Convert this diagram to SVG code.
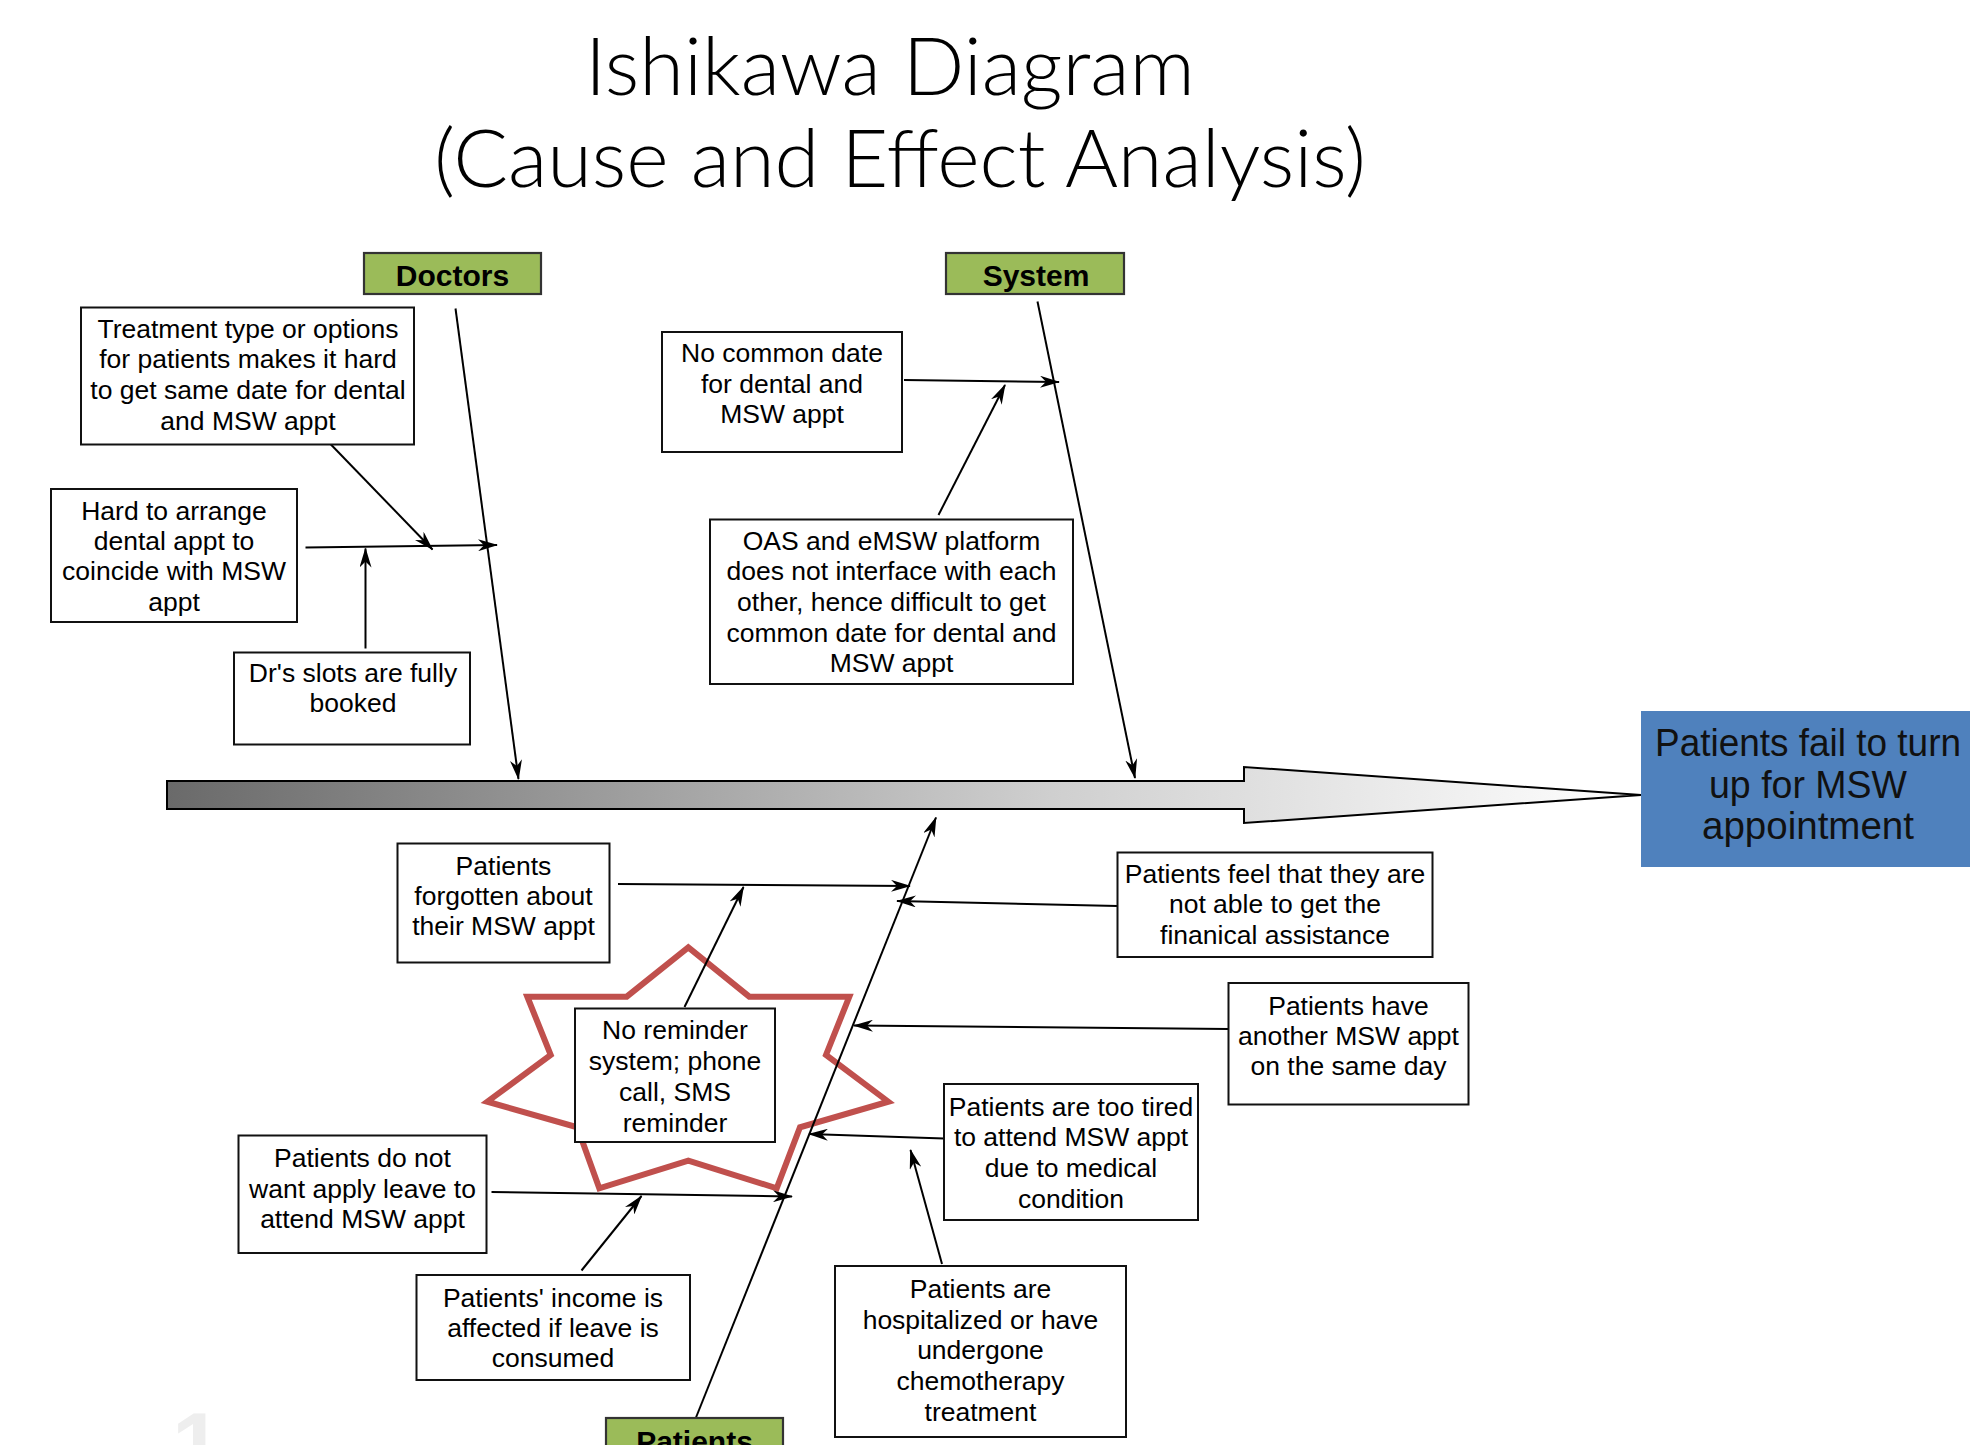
<svg xmlns="http://www.w3.org/2000/svg" width="1987" height="1445" viewBox="0 0 1987 1445">
<style>
.box{fill:#ffffff;stroke:#111111;stroke-width:2}
.cat{fill:#9BBB59;stroke:#333333;stroke-width:2.2}
.t{font-family:"Liberation Sans",Arial,sans-serif;font-size:26.5px;fill:#000;text-anchor:middle}
.ct{font-family:"Liberation Sans",Arial,sans-serif;font-size:30px;font-weight:bold;fill:#000;text-anchor:middle}
.et{font-family:"Liberation Sans",Arial,sans-serif;font-size:38px;fill:#111;text-anchor:middle}
.title{font-family:Lato,"Open Sans",sans-serif;font-size:80px;font-weight:300;fill:#000;text-anchor:middle}
.c{fill:none;stroke:#000;stroke-width:2;marker-end:url(#ah)}
</style>
<defs>
<marker id="ah" viewBox="0 0 20 12" refX="19" refY="6" markerWidth="20" markerHeight="12" markerUnits="userSpaceOnUse" orient="auto">
<path d="M0,0 L20,6 L0,12 L6,6 Z" fill="#000"/>
</marker>
<linearGradient id="spg" gradientUnits="userSpaceOnUse" x1="167" y1="0" x2="1641" y2="0">
<stop offset="0" stop-color="#6a6a6a"/>
<stop offset="0.6" stop-color="#cfcfcf"/>
<stop offset="1" stop-color="#ffffff"/>
</linearGradient>
</defs>
<rect x="0" y="0" width="1987" height="1445" fill="#ffffff"/>
<text x="172" y="1476" font-family="Liberation Sans, sans-serif" font-size="90" font-weight="bold" fill="#eeeeee">1</text>
<g id="title">
<text class="title" x="890" y="95" textLength="610" lengthAdjust="spacingAndGlyphs">Ishikawa Diagram</text>
<text class="title" x="900" y="187" textLength="932" lengthAdjust="spacingAndGlyphs">(Cause and Effect Analysis)</text>
</g>
<g id="spine">
<path d="M167,781 L1244,781 L1244,767 L1641,795 L1244,823 L1244,809 L167,809 Z" fill="url(#spg)" stroke="#000" stroke-width="2"/>
</g>
<g id="star">
<polygon points="688.3,947.3 749.3,996.7 849.3,996.7 826,1055 888.3,1101.7 800,1127.3 776.7,1188.3 688.3,1160.7 599.3,1188.3 577.3,1127.3 487.3,1101.7 550.7,1055 527.3,996.7 626.7,996.7" fill="none" stroke="#C0504D" stroke-width="6"/>
</g>
<g id="connectors">
<path class="c" d="M455.5,308.5 L518.5,779"/>
<path class="c" d="M328.5,442 L432.5,549.5"/>
<path class="c" d="M305.5,547.5 L497,545"/>
<path class="c" d="M365.5,648.5 L365.5,548.5"/>
<path class="c" d="M1037.5,301.5 L1135,778"/>
<path class="c" d="M904,380 L1059,382"/>
<path class="c" d="M938.5,515 L1005,385"/>
<path class="c" d="M695.8,1418 L936,817.5"/>
<path class="c" d="M618,884 L910,886"/>
<path class="c" d="M684.5,1007 L743.5,887"/>
<path class="c" d="M1117.5,906 L897,901"/>
<path class="c" d="M1228.5,1029 L854,1025.5"/>
<path class="c" d="M944,1138.5 L809,1134"/>
<path class="c" d="M942,1264 L910.5,1150"/>
<path class="c" d="M491.5,1192 L792,1196.5"/>
<path class="c" d="M581.5,1270.5 L641.5,1196"/>
</g>
<g id="doctors">
<rect class="cat" x="364" y="253" width="177" height="41"/>
<text class="ct" x="452.5" y="286">Doctors</text>
</g>
<g id="system">
<rect class="cat" x="946" y="253" width="178" height="41"/>
<text class="ct" x="1036" y="286">System</text>
</g>
<g id="patients">
<rect class="cat" x="606" y="1418" width="177" height="41"/>
<text class="ct" x="694.5" y="1452">Patients</text>
</g>
<g id="effect">
<rect x="1641" y="711" width="329" height="156" fill="#4F81BD"/>
<text class="et" x="1808" y="756" textLength="306" lengthAdjust="spacingAndGlyphs">Patients fail to turn</text>
<text class="et" x="1808" y="798" textLength="198" lengthAdjust="spacingAndGlyphs">up for MSW</text>
<text class="et" x="1808" y="839" textLength="212" lengthAdjust="spacingAndGlyphs">appointment</text>
</g>
<g id="treatment">
<rect class="box" x="81" y="307.5" width="333" height="137"/>
<text class="t" x="248" y="337.5">Treatment type or options</text>
<text class="t" x="248" y="368">for patients makes it hard</text>
<text class="t" x="248" y="398.5">to get same date for dental</text>
<text class="t" x="248" y="429.5">and MSW appt</text>
</g>
<g id="hard">
<rect class="box" x="51" y="489" width="246" height="133"/>
<text class="t" x="174" y="519.5">Hard to arrange</text>
<text class="t" x="174" y="549.5">dental appt to</text>
<text class="t" x="174" y="580">coincide with MSW</text>
<text class="t" x="174" y="610.5">appt</text>
</g>
<g id="slots">
<rect class="box" x="234" y="652.5" width="236" height="92"/>
<text class="t" x="353" y="682">Dr's slots are fully</text>
<text class="t" x="353" y="712">booked</text>
</g>
<g id="nocommon">
<rect class="box" x="662" y="332" width="240" height="120"/>
<text class="t" x="782" y="362">No common date</text>
<text class="t" x="782" y="392.5">for dental and</text>
<text class="t" x="782" y="423">MSW appt</text>
</g>
<g id="oas">
<rect class="box" x="710" y="519.5" width="363" height="164.5"/>
<text class="t" x="891.5" y="550">OAS and eMSW platform</text>
<text class="t" x="891.5" y="580">does not interface with each</text>
<text class="t" x="891.5" y="611">other, hence difficult to get</text>
<text class="t" x="891.5" y="642">common date for dental and</text>
<text class="t" x="891.5" y="672">MSW appt</text>
</g>
<g id="forgotten">
<rect class="box" x="397.5" y="843.5" width="212" height="119"/>
<text class="t" x="503.5" y="874.5">Patients</text>
<text class="t" x="503.5" y="904.5">forgotten about</text>
<text class="t" x="503.5" y="934.5">their MSW appt</text>
</g>
<g id="feel">
<rect class="box" x="1117.5" y="852.5" width="315" height="104.5"/>
<text class="t" x="1275" y="883">Patients feel that they are</text>
<text class="t" x="1275" y="913">not able to get the</text>
<text class="t" x="1275" y="943.5">finanical assistance</text>
</g>
<g id="another">
<rect class="box" x="1228.5" y="983" width="240" height="121.5"/>
<text class="t" x="1348.5" y="1015">Patients have</text>
<text class="t" x="1348.5" y="1045">another MSW appt</text>
<text class="t" x="1348.5" y="1075">on the same day</text>
</g>
<g id="tired">
<rect class="box" x="944" y="1084" width="254" height="136"/>
<text class="t" x="1071" y="1115.5">Patients are too tired</text>
<text class="t" x="1071" y="1146">to attend MSW appt</text>
<text class="t" x="1071" y="1177">due to medical</text>
<text class="t" x="1071" y="1208">condition</text>
</g>
<g id="hospitalized">
<rect class="box" x="835" y="1266" width="291" height="171"/>
<text class="t" x="980.5" y="1298">Patients are</text>
<text class="t" x="980.5" y="1328.5">hospitalized or have</text>
<text class="t" x="980.5" y="1359">undergone</text>
<text class="t" x="980.5" y="1390">chemotherapy</text>
<text class="t" x="980.5" y="1421">treatment</text>
</g>
<g id="reminder">
<rect class="box" x="575" y="1008.5" width="200" height="133.5"/>
<text class="t" x="675" y="1039">No reminder</text>
<text class="t" x="675" y="1070">system; phone</text>
<text class="t" x="675" y="1101">call, SMS</text>
<text class="t" x="675" y="1132">reminder</text>
</g>
<g id="leave">
<rect class="box" x="238.5" y="1135.5" width="248" height="117.5"/>
<text class="t" x="362.5" y="1167">Patients do not</text>
<text class="t" x="362.5" y="1197.5">want apply leave to</text>
<text class="t" x="362.5" y="1227.5">attend MSW appt</text>
</g>
<g id="income">
<rect class="box" x="416.5" y="1275" width="273.5" height="105"/>
<text class="t" x="553" y="1306.5">Patients' income is</text>
<text class="t" x="553" y="1336.5">affected if leave is</text>
<text class="t" x="553" y="1367">consumed</text>
</g>
</svg>
